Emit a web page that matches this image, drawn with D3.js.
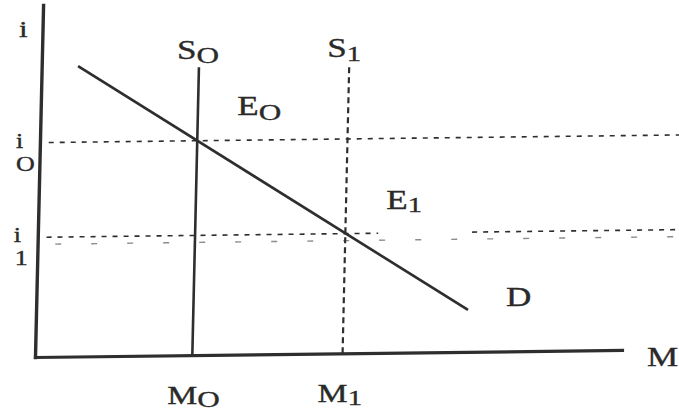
<!DOCTYPE html>
<html>
<head>
<meta charset="utf-8">
<script src="https://cdn.jsdelivr.net/npm/d3@7"></script>
<style>
  html, body { margin: 0; padding: 0; background: #fff; }
  svg { display: block; }
  text { font-family: "Liberation Serif", "Times New Roman", serif; fill: #2a2a2a; }
</style>
</head>
<body>
<svg id="chart" width="679" height="413"></svg>
<script>
// ---- data (chart units: quantity of money M on x, interest rate i on y) ----
const axisMax = [100, 100];            // M-axis end, i-axis end
const moneySupply = [26.8, 52.4];      // M0, M1
const rates = [60.9, 34.0];            // i0, i1
const supplyTop = 81.8;                // top of the vertical supply lines
const demandM = [6.2, 73.6];           // demand line: start / end M
const demandI = [82.5, 11.9];          // demand line: start / end i
const guideEnd = 112;                  // dashed rate guides run off the page
const i1Gap = [58, 74];                // gap in the i1 dotted guide
const supplyNames = ["S", "S"];
const equilNames = ["E", "E"];
const subs = ["O", "1"];
const axisNames = ["i", "M"];
const demandName = "D";

// ---- scales ----
const x = d3.scaleLinear().domain([0, axisMax[0]]).range([35, 622]);
const y = d3.scaleLinear().domain([0, axisMax[1]]).range([357, 5]);

// slight skew of the scanned page
const sk = { a: 1, b: -0.012, c: -0.023, d: 1, e: 8.21, f: 0.42 };
const toScreen = (m, i) => {
  const u = x(m), v = y(i);
  return [sk.a * u + sk.c * v + sk.e, sk.b * u + sk.d * v + sk.f];
};

const svg = d3.select("#chart");
const ink = "#2e2e2e";

const g = svg.append("g")
  .attr("transform", `matrix(${sk.a},${sk.b},${sk.c},${sk.d},${sk.e},${sk.f})`);

// axes (no ticks, just the domain lines)
const xAxis = d3.axisBottom(x).tickValues([]).tickSizeOuter(0);
const yAxis = d3.axisLeft(y).tickValues([]).tickSizeOuter(0);
g.append("g").attr("transform", `translate(0,${y(0)})`).call(xAxis)
  .select(".domain").attr("stroke", ink).attr("stroke-width", 3.2).attr("stroke-linecap", "square");
g.append("g").attr("transform", `translate(${x(0)},0)`).call(yAxis)
  .select(".domain").attr("stroke", ink).attr("stroke-width", 3.4).attr("stroke-linecap", "square");

const line = d3.line().x(d => x(d[0])).y(d => y(d[1]));

// i0 guide
g.append("path").attr("d", line([[1.5, rates[0]], [guideEnd, rates[0]]]))
  .attr("fill", "none").attr("stroke", ink).attr("stroke-width", 1.6).attr("stroke-dasharray", "5,6");
// i1 guide (two dotted pieces)
[[1.5, i1Gap[0]], [i1Gap[1], guideEnd]].forEach(seg => {
  g.append("path").attr("d", line([[seg[0], rates[1]], [seg[1], rates[1]]]))
    .attr("fill", "none").attr("stroke", ink).attr("stroke-width", 1.6).attr("stroke-dasharray", "5,6");
});
// faint scan echo just under the i1 guide
g.append("path").attr("d", line([[3, rates[1]], [guideEnd, rates[1]]]))
  .attr("transform", "translate(0,7)")
  .attr("fill", "none").attr("stroke", "#666").attr("stroke-width", 1.4)
  .attr("stroke-dasharray", "6,30").attr("opacity", 0.75);

// S0 (solid) and S1 (dashed)
g.append("path").attr("d", line([[moneySupply[0], 0], [moneySupply[0], supplyTop]]))
  .attr("fill", "none").attr("stroke", ink).attr("stroke-width", 2.6);
g.append("path").attr("d", line([[moneySupply[1], 0], [moneySupply[1], supplyTop]]))
  .attr("fill", "none").attr("stroke", ink).attr("stroke-width", 2.2).attr("stroke-dasharray", "6,4");

// demand D
g.append("path").attr("d", line([[demandM[0], demandI[0]], [demandM[1], demandI[1]]]))
  .attr("fill", "none").attr("stroke", ink).attr("stroke-width", 2.6);

// ---- labels (stretched serif, as in the scan) ----
function label(px, py, main, sub, size, subSize, subDy) {
  const t = svg.append("text")
    .attr("transform", `translate(${px},${py}) scale(1.3,1)`)
    .attr("font-size", size)
    .attr("stroke", "#2a2a2a").attr("stroke-width", 0.35);
  t.append("tspan").text(main);
  if (sub) t.append("tspan").attr("font-size", subSize).attr("dy", subDy).text(sub);
  return t;
}

// axis names
const yTop = toScreen(0, axisMax[1]);
label(yTop[0] - 24, yTop[1] + 32, axisNames[0], null, 24);
const xEnd = toScreen(axisMax[0], 0);
label(xEnd[0] + 25, xEnd[1] + 16, axisNames[1], null, 27);

// supply labels and their quantities
moneySupply.forEach((m, k) => {
  const p = toScreen(m, supplyTop);
  label(p[0] - 22, p[1] - 8, supplyNames[k], subs[k], 27, k === 0 ? 24 : 22, 4);
  const b = toScreen(m, 0);
  label(b[0] - 25, b[1] + 49, "M", subs[k], 26, k === 0 ? 24 : 22, 3);
});

// equilibrium labels
const e0 = toScreen(moneySupply[0], rates[0]);
label(e0[0] + 40, e0[1] - 26, equilNames[0], subs[0], 27, 24, 5);
const e1 = toScreen(moneySupply[1], rates[1]);
label(e1[0] + 41, e1[1] - 25, equilNames[1], subs[1], 27, 22, 3);

// demand label
const dEnd = toScreen(demandM[1], demandI[1]);
label(dEnd[0] + 38, dEnd[1] - 4, demandName, null, 27);

// rate labels on the i-axis (subscript stacked below)
rates.forEach((r, k) => {
  const p = toScreen(0, r);
  label(p[0] - 24, p[1] + 5, axisNames[0], null, 20);
  label(p[0] - (k === 0 ? 24 : 23), p[1] + 28, subs[k], null, 20);
});
</script>
</body>
</html>
